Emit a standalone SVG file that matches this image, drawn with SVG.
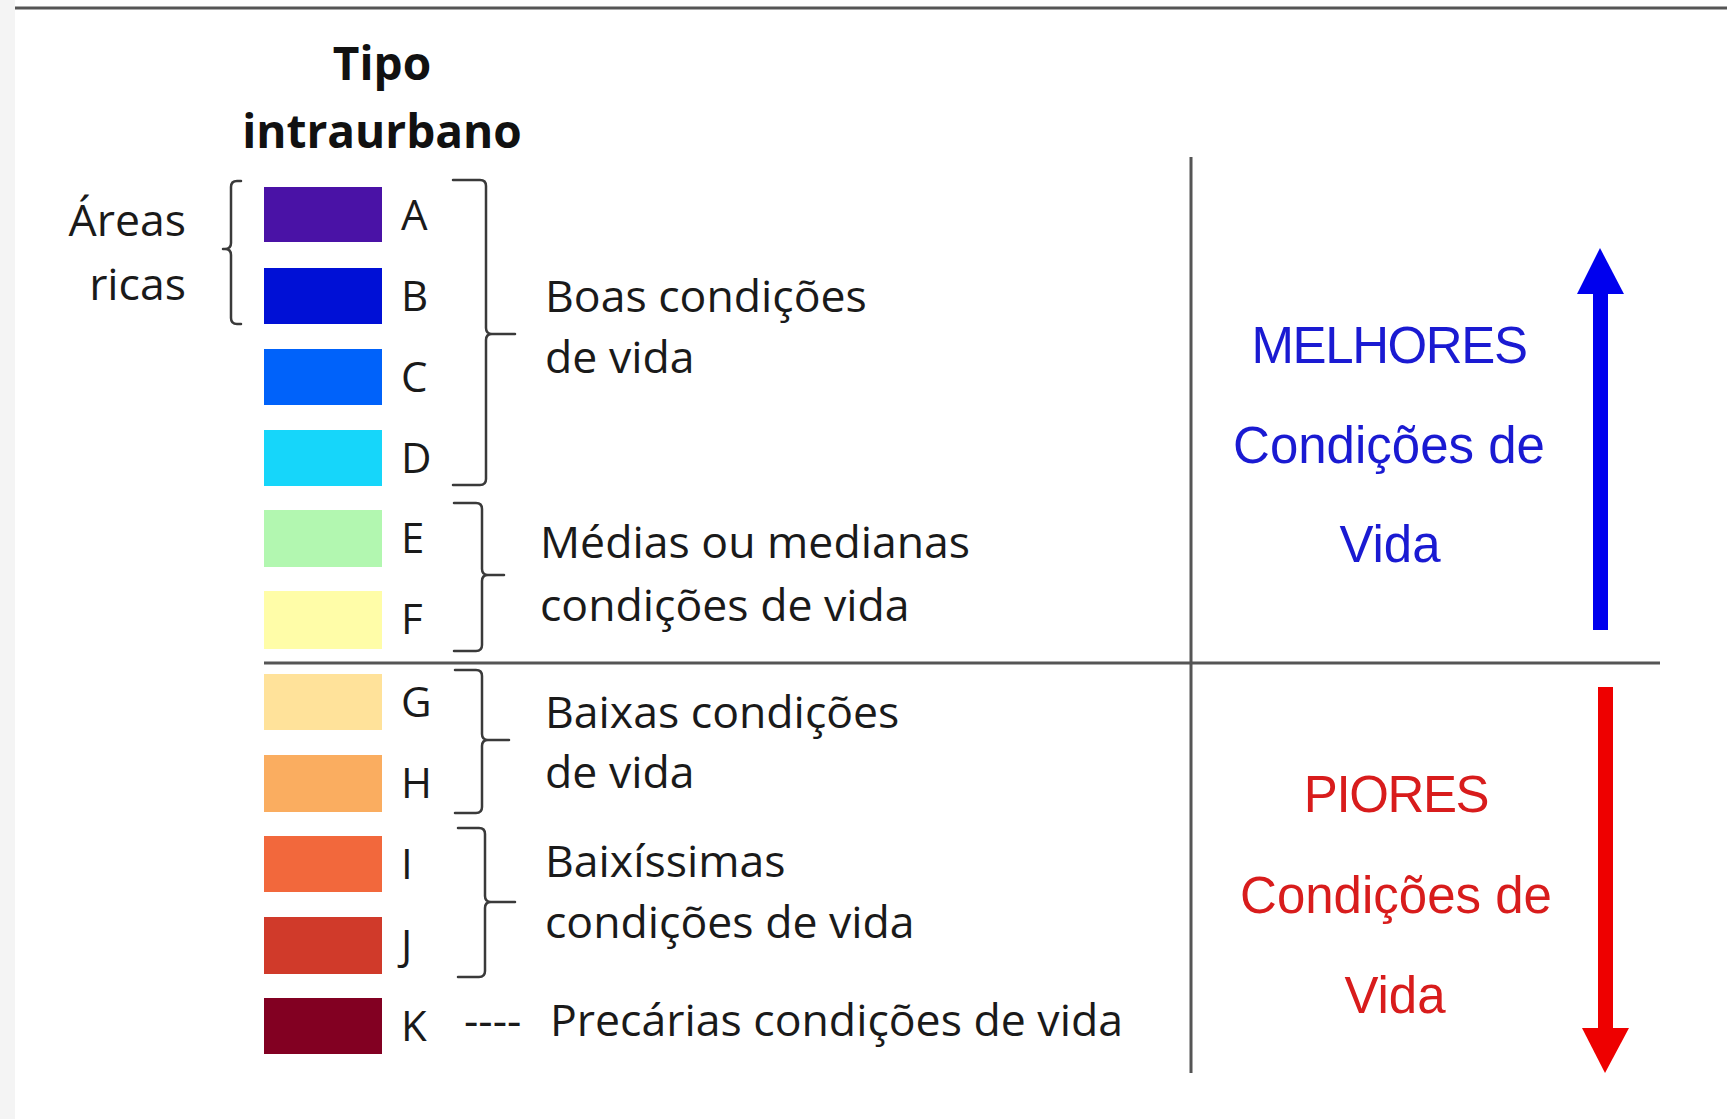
<svg xmlns="http://www.w3.org/2000/svg" width="1727" height="1119" viewBox="0 0 1727 1119">
<style>
.body{font-family:"Open Sans","Liberation Sans",sans-serif;font-size:44.6px;fill:#1a1a1a}
.title{font-family:"Open Sans","Liberation Sans",sans-serif;font-size:46px;font-weight:bold;fill:#111;text-anchor:middle}
.let{font-family:"Open Sans","Liberation Sans",sans-serif;font-size:42px;fill:#1a1a1a}
.big{font-family:"Liberation Sans",Arial,sans-serif;font-size:51px;text-anchor:middle}
.caps{letter-spacing:-1.4px}
.blue{fill:#1a1ad2}
.red{fill:#d81c1c}
.br{fill:none;stroke:#3a3a3a;stroke-width:2.5;stroke-linecap:round;stroke-linejoin:round}
.rule{stroke:#555;stroke-width:3;fill:none}
</style>
<rect x="0" y="0" width="1727" height="1119" fill="#ffffff"/>
<rect x="0" y="0" width="15" height="1119" fill="#f4f4f4"/>

<g id="title">
<text class="title" x="382" y="80">Tipo</text>
<text class="title" x="382" y="148">intraurbano</text>
</g>

<g id="areas-ricas">
<text class="body" x="186" y="236" text-anchor="end">Áreas</text>
<text class="body" x="186" y="300" text-anchor="end">ricas</text>
<path class="br" d="M241,181 H237 Q231,181 231,187 V243 Q231,249 225,249 H223 M225,249 Q231,249 231,255 V318 Q231,324 237,324 H241"/>
</g>

<g id="swatch-A"><rect x="264" y="187" width="118" height="55" fill="#4a12a6"/><text class="let" x="401" y="230">A</text></g>
<g id="swatch-B"><rect x="264" y="268" width="118" height="56" fill="#0010d6"/><text class="let" x="401" y="311">B</text></g>
<g id="swatch-C"><rect x="264" y="349" width="118" height="56" fill="#0062fa"/><text class="let" x="401" y="392">C</text></g>
<g id="swatch-D"><rect x="264" y="430" width="118" height="56" fill="#16d6fa"/><text class="let" x="401" y="473">D</text></g>
<g id="swatch-E"><rect x="264" y="510" width="118" height="57" fill="#b2f7b0"/><text class="let" x="401" y="553">E</text></g>
<g id="swatch-F"><rect x="264" y="591" width="118" height="58" fill="#fffda8"/><text class="let" x="401" y="634">F</text></g>
<g id="swatch-G"><rect x="264" y="674" width="118" height="56" fill="#ffe29a"/><text class="let" x="401" y="717">G</text></g>
<g id="swatch-H"><rect x="264" y="755" width="118" height="57" fill="#faad60"/><text class="let" x="401" y="798">H</text></g>
<g id="swatch-I"><rect x="264" y="836" width="118" height="56" fill="#f2683c"/><text class="let" x="401" y="879">I</text></g>
<g id="swatch-J"><rect x="264" y="917" width="118" height="57" fill="#d03a2a"/><text class="let" x="401" y="960">J</text></g>
<g id="swatch-K"><rect x="264" y="998" width="118" height="56" fill="#820022"/><text class="let" x="401" y="1041">K</text></g>

<g id="group-boas">
<path class="br" d="M453,180 H480 Q486,180 486,186 V328 Q486,334 492,334 H515 M492,334 Q486,334 486,340 V479 Q486,485 480,485 H453"/>
<text class="body" x="545" y="312">Boas condições</text>
<text class="body" x="545" y="373">de vida</text>
</g>

<g id="group-medias">
<path class="br" d="M454,503 H476 Q482,503 482,509 V569 Q482,575 488,575 H504 M488,575 Q482,575 482,581 V645 Q482,651 476,651 H454"/>
<text class="body" x="540" y="558">Médias ou medianas</text>
<text class="body" x="540" y="621">condições de vida</text>
</g>

<g id="group-baixas">
<path class="br" d="M455,670 H476 Q482,670 482,676 V734 Q482,740 488,740 H509 M488,740 Q482,740 482,746 V807 Q482,813 476,813 H455"/>
<text class="body" x="545" y="728">Baixas condições</text>
<text class="body" x="545" y="788">de vida</text>
</g>

<g id="group-baixissimas">
<path class="br" d="M458,828 H479 Q485,828 485,834 V896 Q485,902 491,902 H515 M491,902 Q485,902 485,908 V971 Q485,977 479,977 H458"/>
<text class="body" x="545" y="877">Baixíssimas</text>
<text class="body" x="545" y="938">condições de vida</text>
</g>

<g id="group-precarias">
<text class="body" x="464" y="1036">----</text>
<text class="body" x="550" y="1036">Precárias condições de vida</text>
</g>

<g id="melhores">
<text class="big blue caps" x="1389" y="363">MELHORES</text>
<text class="big blue" x="1389" y="463">Condições de</text>
<text class="big blue" x="1390" y="562">Vida</text>
</g>

<g id="piores">
<text class="big red caps" x="1396" y="812">PIORES</text>
<text class="big red" x="1396" y="913">Condições de</text>
<text class="big red" x="1395" y="1013">Vida</text>
</g>

<g id="connectors">
<line class="rule" x1="15" y1="8" x2="1727" y2="8" stroke="#333"/>
<line class="rule" x1="1191" y1="157" x2="1191" y2="1073"/>
<line class="rule" x1="264" y1="663" x2="1660" y2="663"/>
<rect x="1593" y="288" width="15" height="342" fill="#0000ee"/>
<polygon points="1600,248 1624,294 1577,294" fill="#0000ee"/>
<rect x="1598" y="687" width="15" height="345" fill="#ee0000"/>
<polygon points="1582,1028 1629,1028 1605,1073" fill="#ee0000"/>
</g>
</svg>
